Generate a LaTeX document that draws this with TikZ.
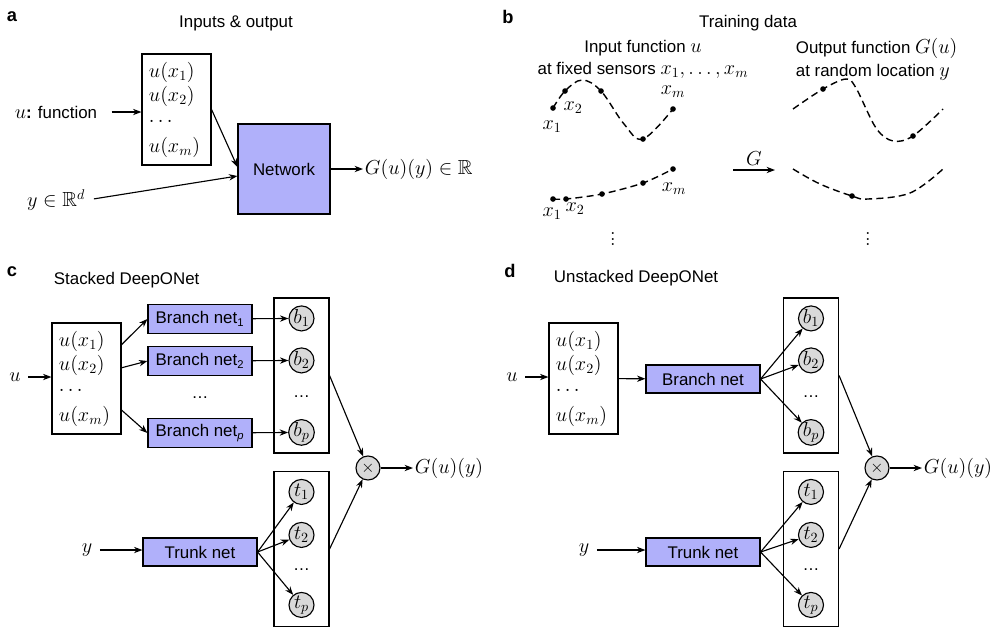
\documentclass[tikz,border=0pt]{standalone}
\usepackage{amsmath, amssymb}
\usepackage{fontspec}
\setsansfont{Liberation Sans}
\usepackage{xcolor}
\usepackage{tikz}
\usetikzlibrary{calc, hobby, arrows.meta}

\definecolor{netblue}{RGB}{176,176,250}
\newcommand{\mth}[1]{{\fontsize{14.5}{17}\selectfont$#1$}}

\tikzset{
	panel/.style = {font=\sffamily\bfseries\fontsize{13}{15}\selectfont, inner sep=0pt},
	sf/.style = {font=\sffamily\fontsize{12}{16}\selectfont, inner sep=1pt},
	mth/.style = {font=\fontsize{14.5}{17}\selectfont, inner sep=1pt},
	arr/.style = {-{Stealth[length=6pt, width=4.5pt]}},
	inarr/.style = {arr, shorten <=4pt},
	sensors/.style = {draw, minimum width=1.725cm, minimum height=2.775cm},
	net/.style = {draw, fill=netblue, font=\sffamily\fontsize{12}{14}\selectfont, inner sep=0pt},
	column/.style = {draw, minimum width=1.375cm, minimum height=3.875cm},
	neuron/.style = {circle, draw, fill=gray!30, inner sep=0pt, minimum size=0.625cm, font=\fontsize{14.5}{17}\selectfont},
	prod/.style = {circle, draw, fill=gray!30, inner sep=0pt, minimum size=0.6cm, font=\fontsize{13}{15}\selectfont},
	sample/.style = {dash pattern=on 5pt off 3pt, line width=1pt}
}

\begin{document}
\begin{tikzpicture}[x=0.025cm, y=-0.025cm, line width=0.8pt]
	\useasboundingbox (0,0) rectangle (995,627);

	% (a) inputs and output of the network
	\node [panel] (a) at (12,17) {a};
	\node [sf] (titlea) at (236,23) {Inputs \& output};

	\node [sensors] (insa) at (176.5,109.5) {};
	\foreach \lab/\dy [count=\i] in {u(x_1)/24, u(x_2)/48, \cdots/73, u(x_m)/99}
	{
		\node [mth, inner sep=0pt, anchor=base west] (insa-\i) at ([shift={(7,\dy)}]insa.north west) {$\lab$};
	}

	\node [sf, anchor=east] (ufun) at (99,112) {\mth{u}\textbf{:} function};
	\node [mth, anchor=east] (yrd) at (87,200) {$y \in \mathbb{R}^d$};
	\node [net, minimum width=2.3cm, minimum height=2.25cm] (neta) at (284,169) {Network};
	\node [mth, anchor=west] (outa) at (363,169) {$G(u)(y) \in \mathbb{R}$};

	\draw [arr, shorten <=9pt] (ufun) -- (ufun -| insa.west);
	\draw [arr] (insa.east) -- ([yshift=0.05cm]neta.west);
	\draw [inarr, shorten <=5pt] (yrd.east) -- ([yshift=-0.175cm]neta.west);
	\draw [arr] (neta) -- (outa);

	% (b) training data: sampled inputs and outputs
	\node [panel] (b) at (508,17) {b};
	\node [sf] (titleb) at (748,23) {Training data};
	\node [sf, align=center] (inhead) at (643,59.5) {Input function \mth{u}\\at fixed sensors \mth{x_1,\dots,x_m}};
	\node [sf, align=left, anchor=west] (outhead) at (794,59.5) {Output function \mth{G(u)}\\at random location \mth{y}};

	\foreach \x/\y [count=\i] in {553/108, 565/91, 601/91, 643/139, 673/109}
	{
		\coordinate (ua-\i) at (\x,\y);
	}
	\draw [sample] plot [smooth, tension=0.6] coordinates {(ua-1) (ua-2) (582,80) (ua-3) (624,124) (ua-4) (ua-5)};
	\foreach \i in {1,...,5}
	{
		\fill (ua-\i) circle (2pt);
	}
	\node [mth] (ua-l1) at (552,127) {$x_1$};
	\node [mth] (ua-l2) at (573,108) {$x_2$};
	\node [mth] (ua-lm) at (673,92) {$x_m$};

	\foreach \x/\y [count=\i] in {553/199, 566/199, 602/194, 643/183, 673/169}
	{
		\coordinate (ub-\i) at (\x,\y);
	}
	\draw [sample] plot [smooth, tension=0.5] coordinates {(ub-1) (ub-2) (ub-3) (ub-4) (ub-5)};
	\foreach \i in {1,...,5}
	{
		\fill (ub-\i) circle (2pt);
	}
	\node [mth] (ub-l1) at (552,214) {$x_1$};
	\node [mth] (ub-l2) at (575,209) {$x_2$};
	\node [mth] (ub-lm) at (674,189) {$x_m$};
	\node [mth] (moreu) at (613,235) {$\vdots$};

	\coordinate (gfrom) at (733,170);
	\coordinate (gto) at (775,170);
	\draw [arr] (gfrom) -- node [mth, above=2pt] (glab) {$G$} (gto);

	\coordinate (ga-1) at (823,89);
	\coordinate (ga-2) at (913,136);
	\draw [sample] plot [smooth, tension=0.55] coordinates {(793,109) (ga-1) (846,79) (856,88) (876,128) (893,141) (ga-2) (943,109)};
	\coordinate (gb-1) at (852,196);
	\draw [sample] plot [smooth, tension=0.6] coordinates {(793,169) (820,184) (gb-1) (868,199) (910,193) (943,169)};
	\fill (ga-1) circle (2pt) (ga-2) circle (2pt) (gb-1) circle (2pt);
	\node [mth] (moreg) at (868,235) {$\vdots$};

	% (c) stacked DeepONet
	\node [panel] (c) at (12,272) {c};
	\node [sf, anchor=west] (titlec) at (52,280) {Stacked DeepONet};

	\node [sensors] (insc) at (86.5,378.5) {};
	\foreach \lab/\dy [count=\i] in {u(x_1)/24, u(x_2)/48, \cdots/73, u(x_m)/99}
	{
		\node [mth, inner sep=0pt, anchor=base west] (insc-\i) at ([shift={(7,\dy)}]insc.north west) {$\lab$};
	}
	\node [mth] (uc) at (15,377) {$u$};
	\draw [inarr] (uc) -- (uc -| insc.west);

	\node [column] (bcolc) at (301.5,375.5) {};
	\foreach \k/\lab/\dy in {1/b_1/21, 2/b_2/63, p/b_p/135}
	{
		\node [neuron] (bc-\k) at ([shift={(0,\dy)}]bcolc.north) {$\lab$};
	}
	\node [sf, anchor=base] (bc-dots) at ([shift={(0,100)}]bcolc.north) {\ldots};

	\foreach \k/\sub/\yy in {1/1/319, 2/2/361, p/\textit{p}/433}
	{
		\node [net, minimum width=2.6cm, minimum height=0.725cm] (brc-\k) at (200,\yy) {Branch net\textsubscript{\sub}};
		\draw [arr] (brc-\k) -- (bc-\k);
	}
	\node [sf, anchor=base] (brc-dots) at (200,398) {\ldots};
	\draw [arr] (insc.44) -- (brc-1.west);
	\draw [arr] (insc.17) -- (brc-2.west);
	\draw [arr] (insc.-42) -- (brc-p.west);

	\node [column] (tcolc) at (301.5,549) {};
	\foreach \k/\lab/\dy in {1/t_1/21, 2/t_2/64, p/t_p/134}
	{
		\node [neuron] (tc-\k) at ([shift={(0,\dy)}]tcolc.north) {$\lab$};
	}
	\node [sf, anchor=base] (tc-dots) at ([shift={(0,100)}]tcolc.north) {\ldots};

	\node [net, minimum width=2.85cm, minimum height=0.7cm] (trc) at (200,552) {Trunk net};
	\node [mth] (yc) at (87,550) {$y$};
	\draw [inarr] (yc) -- (yc -| trc.west);
	\foreach \k in {1,2,p}
	{
		\draw [arr] (trc.east) -- (tc-\k);
	}

	\node [prod] (xc) at (368,468) {$\times$};
	\draw [arr] (bcolc.east) -- (xc);
	\draw [arr] (tcolc.east) -- (xc);
	\node [mth, anchor=west] (outc) at (413,468) {$G(u)(y)$};
	\draw [arr] (xc) -- (outc);

	% (d) unstacked DeepONet
	\node [panel] (d) at (510,271) {d};
	\node [sf, anchor=west] (titled) at (552,278) {Unstacked DeepONet};

	\node [sensors] (insd) at (583.5,378.5) {};
	\foreach \lab/\dy [count=\i] in {u(x_1)/24, u(x_2)/48, \cdots/73, u(x_m)/99}
	{
		\node [mth, inner sep=0pt, anchor=base west] (insd-\i) at ([shift={(7,\dy)}]insd.north west) {$\lab$};
	}
	\node [mth] (ud) at (512,377) {$u$};
	\draw [inarr] (ud) -- (ud -| insd.west);

	\node [net, minimum width=2.85cm, minimum height=0.7cm] (brd) at (703,379) {Branch net};
	\draw [arr] (insd) -- (brd);

	\node [column] (bcold) at (811,375.5) {};
	\foreach \k/\lab/\dy in {1/b_1/21, 2/b_2/63, p/b_p/135}
	{
		\node [neuron] (bd-\k) at ([shift={(0,\dy)}]bcold.north) {$\lab$};
		\draw [arr] (brd.east) -- (bd-\k);
	}
	\node [sf, anchor=base] (bd-dots) at ([shift={(0,100)}]bcold.north) {\ldots};

	\node [column] (tcold) at (811,549) {};
	\node [net, minimum width=2.85cm, minimum height=0.7cm] (trd) at (703,552) {Trunk net};
	\foreach \k/\lab/\dy in {1/t_1/21, 2/t_2/64, p/t_p/134}
	{
		\node [neuron] (td-\k) at ([shift={(0,\dy)}]tcold.north) {$\lab$};
		\draw [arr] (trd.east) -- (td-\k);
	}
	\node [sf, anchor=base] (td-dots) at ([shift={(0,100)}]tcold.north) {\ldots};
	\node [mth] (yd) at (584,550) {$y$};
	\draw [inarr] (yd) -- (yd -| trd.west);

	\node [prod] (xd) at (877,468) {$\times$};
	\draw [arr] (bcold.east) -- (xd);
	\draw [arr] (tcold.east) -- (xd);
	\node [mth, anchor=west] (outd) at (922,468) {$G(u)(y)$};
	\draw [arr] (xd) -- (outd);
\end{tikzpicture}
\end{document}
